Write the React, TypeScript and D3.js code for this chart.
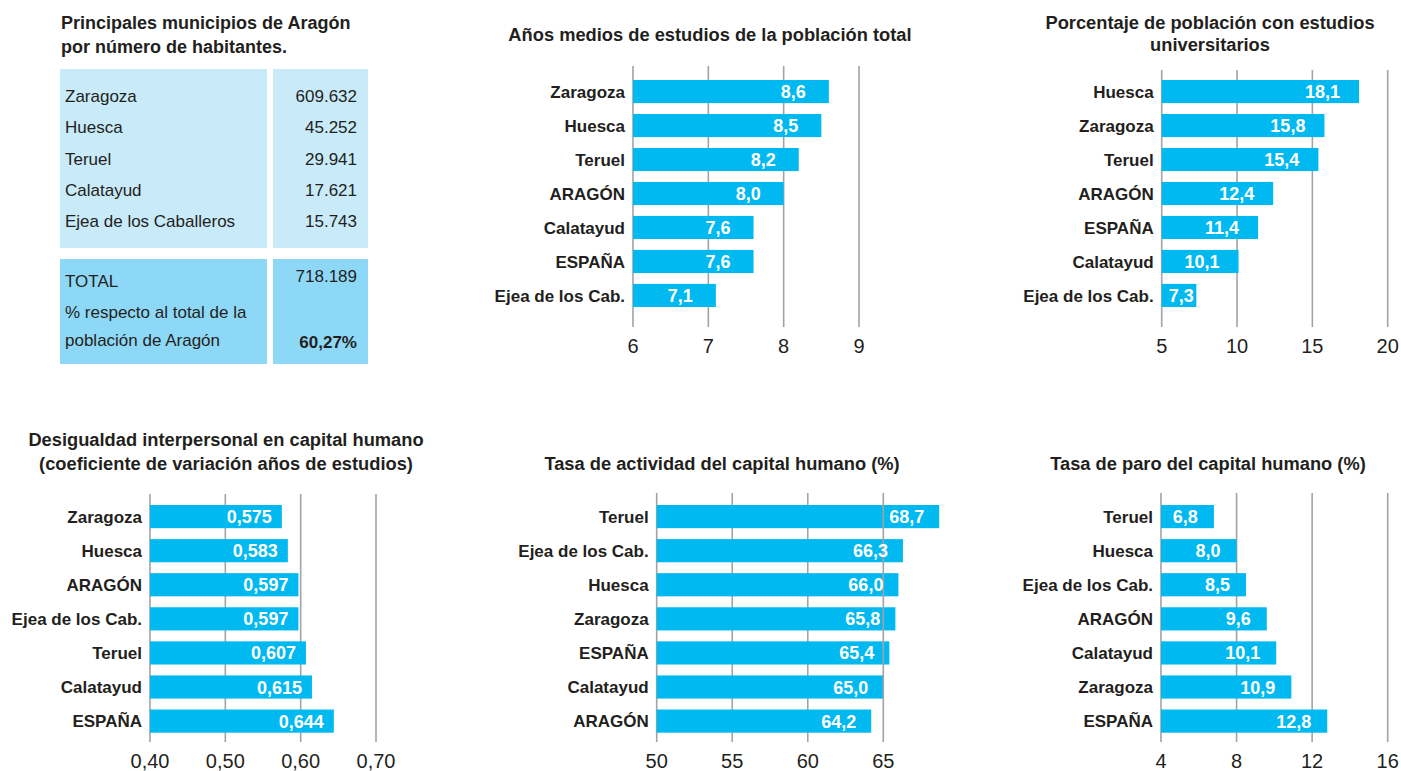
import React from "react";
import * as d3 from "d3";

const FONT = "'Liberation Sans', Arial, Helvetica, sans-serif";
const TXT = "#231f20";
const BAR = "#00b9f0";
const GRID = "#a3a3a3";
const BOX_LIGHT = "#c8eaf9";
const BOX_DARK = "#8ed8f7";

// ---- Table data ----
const tableTitle = ["Principales municipios de Aragón", "por número de habitantes."];
const munNames = ["Zaragoza", "Huesca", "Teruel", "Calatayud", "Ejea de los Caballeros"];
const munPop = ["609.632", "45.252", "29.941", "17.621", "15.743"];
const totalLabel = "TOTAL";
const totalValue = "718.189";
const pctLabel = ["% respecto al total de la", "población de Aragón"];
const pctValue = "60,27%";

// ---- Chart 1: Años medios de estudios ----
const aniosTitle = ["Años medios de estudios de la población total"];
const aniosCats = ["Zaragoza", "Huesca", "Teruel", "ARAGÓN", "Calatayud", "ESPAÑA", "Ejea de los Cab."];
const aniosVals = [8.6, 8.5, 8.2, 8.0, 7.6, 7.6, 7.1];
const aniosTicks = [6, 7, 8, 9];

// ---- Chart 2: Porcentaje universitarios ----
const univTitle = ["Porcentaje de población con estudios", "universitarios"];
const univCats = ["Huesca", "Zaragoza", "Teruel", "ARAGÓN", "ESPAÑA", "Calatayud", "Ejea de los Cab."];
const univVals = [18.1, 15.8, 15.4, 12.4, 11.4, 10.1, 7.3];
const univTicks = [5, 10, 15, 20];

// ---- Chart 3: Desigualdad ----
const desigTitle = ["Desigualdad interpersonal en capital humano", "(coeficiente de variación años de estudios)"];
const desigCats = ["Zaragoza", "Huesca", "ARAGÓN", "Ejea de los Cab.", "Teruel", "Calatayud", "ESPAÑA"];
const desigVals = [0.575, 0.583, 0.597, 0.597, 0.607, 0.615, 0.644];
const desigTicks = [0.4, 0.5, 0.6, 0.7];

// ---- Chart 4: Tasa de actividad ----
const actTitle = ["Tasa de actividad del capital humano (%)"];
const actCats = ["Teruel", "Ejea de los Cab.", "Huesca", "Zaragoza", "ESPAÑA", "Calatayud", "ARAGÓN"];
const actVals = [68.7, 66.3, 66.0, 65.8, 65.4, 65.0, 64.2];
const actTicks = [50, 55, 60, 65];

// ---- Chart 5: Tasa de paro ----
const paroTitle = ["Tasa de paro del capital humano (%)"];
const paroCats = ["Teruel", "Huesca", "Ejea de los Cab.", "ARAGÓN", "Calatayud", "Zaragoza", "ESPAÑA"];
const paroVals = [6.8, 8.0, 8.5, 9.6, 10.1, 10.9, 12.8];
const paroTicks = [4, 8, 12, 16];

const comma = (f: string) => (v: number) => d3.format(f)(v).replace(".", ",");

type PanelProps = {
  title: string[];
  cats: string[];
  vals: number[];
  ticks: number[];
  fmtTick: (v: number) => string;
  fmtVal: (v: number) => string;
  x0: number;
  x1: number;
  yTop: number;
  yBot: number;
  gridTop: number;
  gridBottom: number;
  titleX: number;
  titleY: number;
  titleGap: number;
  gap: number;
};

function BarPanel(p: PanelProps) {
  const x = d3.scaleLinear().domain([p.ticks[0], p.ticks[p.ticks.length - 1]]).range([p.x0, p.x1]);
  const y = d3.scaleBand<string>().domain(p.cats).range([p.yTop, p.yBot]).paddingInner(0.32).paddingOuter(0);
  const lastTick = p.ticks[p.ticks.length - 1];
  const estW = (s: string) => s.split("").reduce((a, c) => a + (c === "," ? 5 : 10), 0);
  return (
    <g>
      {p.title.map((t, i) => (
        <text key={i} x={p.titleX} y={p.titleY + i * p.titleGap} textAnchor="middle" fontWeight="bold" fontSize={18.3} fill={TXT}>
          {t}
        </text>
      ))}
      {p.ticks.slice(0, -1).map((t) => (
        <line key={t} x1={x(t)} x2={x(t)} y1={p.gridTop} y2={p.gridBottom} stroke={GRID} strokeWidth={1.6} />
      ))}
      {p.cats.map((c, i) => (
        <rect key={c + i} x={x(p.ticks[0])} y={y(c)!} width={x(p.vals[i]) - x(p.ticks[0])} height={y.bandwidth()} fill={BAR} />
      ))}
      <line x1={x(lastTick)} x2={x(lastTick)} y1={p.gridTop} y2={p.gridBottom} stroke={GRID} strokeWidth={1.6} />
      {p.cats.map((c, i) => (
        <text key={"c" + i} x={x(p.ticks[0]) - 8} y={y(c)! + y.bandwidth() / 2} dy="0.36em" textAnchor="end" fontWeight="bold" fontSize={17} fill={TXT}>
          {c}
        </text>
      ))}
      {p.cats.map((c, i) => {
        const s = p.fmtVal(p.vals[i]);
        const end = x(p.vals[i]) - p.gap;
        const minStart = x(p.ticks[0]) + 7;
        const useStart = end - estW(s) < minStart;
        return (
          <text key={"v" + i} x={useStart ? minStart : end} y={y(c)! + y.bandwidth() / 2} dy="0.36em" textAnchor={useStart ? "start" : "end"} fontWeight="bold" fontSize={18} fill="#ffffff">
            {s}
          </text>
        );
      })}
      {p.ticks.map((t) => (
        <text key={"t" + t} x={x(t)} y={p.gridBottom + 26} textAnchor="middle" fontSize={20} fill={TXT}>
          {p.fmtTick(t)}
        </text>
      ))}
    </g>
  );
}

function Table() {
  const rowY = d3.scalePoint<string>().domain(munNames).range([96, 221]);
  return (
    <g>
      {tableTitle.map((t, i) => (
        <text key={i} x={61} y={29 + i * 24} fontWeight="bold" fontSize={18} fill={TXT}>
          {t}
        </text>
      ))}
      <rect x={60} y={69} width={207} height={179} fill={BOX_LIGHT} />
      <rect x={273} y={69} width={95} height={179} fill={BOX_LIGHT} />
      <rect x={60} y={259} width={207} height={105} fill={BOX_DARK} />
      <rect x={273} y={259} width={95} height={105} fill={BOX_DARK} />
      {munNames.map((n, i) => (
        <g key={n}>
          <text x={65} y={rowY(n)!} dy="0.36em" fontSize={17} fill={TXT}>{n}</text>
          <text x={357} y={rowY(n)!} dy="0.36em" textAnchor="end" fontSize={17} fill={TXT}>{munPop[i]}</text>
        </g>
      ))}
      <text x={65} y={281} dy="0.36em" fontSize={17} fill={TXT}>{totalLabel}</text>
      <text x={357} y={276} dy="0.36em" textAnchor="end" fontSize={17} fill={TXT}>{totalValue}</text>
      {pctLabel.map((t, i) => (
        <text key={t} x={65} y={312 + i * 28} dy="0.36em" fontSize={17} fill={TXT}>{t}</text>
      ))}
      <text x={357} y={342} dy="0.36em" textAnchor="end" fontWeight="bold" fontSize={17} fill={TXT}>{pctValue}</text>
    </g>
  );
}

export default function App() {
  const f1 = comma(".1f");
  const f3 = comma(".3f");
  const f0 = (v: number) => String(v);
  const f2 = comma(".2f");
  return (
    <svg width={1401} height={771} style={{ position: "absolute", left: 0, top: 0, background: "#fff" }} fontFamily={FONT}>
      <rect width={1401} height={771} fill="#fff" />
      <Table />
      <BarPanel title={aniosTitle} cats={aniosCats} vals={aniosVals} ticks={aniosTicks} fmtTick={f0} fmtVal={f1}
        x0={633} x1={859} yTop={80} yBot={307} gridTop={66} gridBottom={327} titleX={710} titleY={41} titleGap={22} gap={23} />
      <BarPanel title={univTitle} cats={univCats} vals={univVals} ticks={univTicks} fmtTick={f0} fmtVal={f1}
        x0={1161.7} x1={1387.7} yTop={80} yBot={307} gridTop={70} gridBottom={327} titleX={1210} titleY={29} titleGap={22} gap={19} />
      <BarPanel title={desigTitle} cats={desigCats} vals={desigVals} ticks={desigTicks} fmtTick={f2} fmtVal={f3}
        x0={150} x1={376} yTop={505} yBot={732.7} gridTop={494} gridBottom={742} titleX={226} titleY={446} titleGap={24} gap={10} />
      <BarPanel title={actTitle} cats={actCats} vals={actVals} ticks={actTicks} fmtTick={f0} fmtVal={f1}
        x0={656.7} x1={883.3} yTop={505} yBot={732.7} gridTop={493} gridBottom={742} titleX={722} titleY={470} titleGap={24} gap={15} />
      <BarPanel title={paroTitle} cats={paroCats} vals={paroVals} ticks={paroTicks} fmtTick={f0} fmtVal={f1}
        x0={1161} x1={1387.7} yTop={505} yBot={732.7} gridTop={493} gridBottom={742} titleX={1208} titleY={470} titleGap={24} gap={16} />
    </svg>
  );
}
